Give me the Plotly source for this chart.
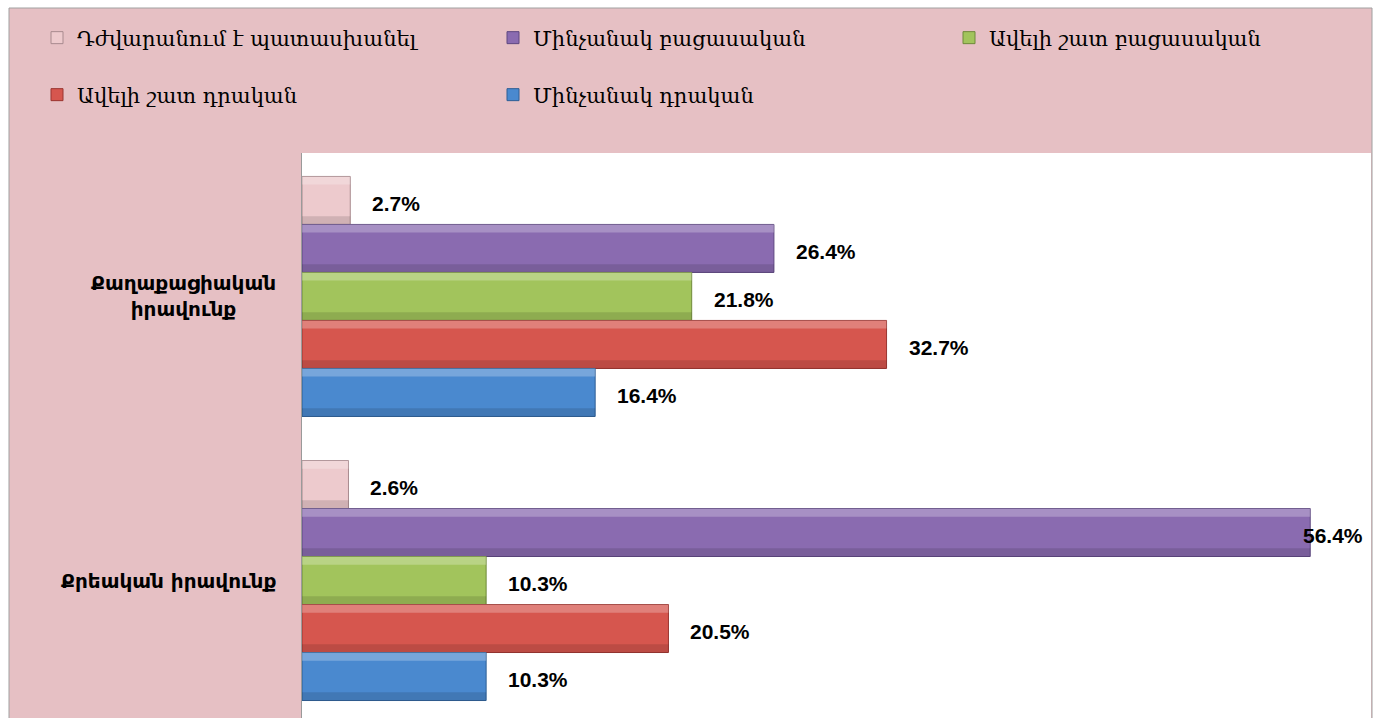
import plotly.graph_objects as go

# Categories (top to bottom) and series values, in %
categories = ["Քաղաքացիական<br>իրավունք", "Քրեական իրավունք"]
series_names = [
    "Դժվարանում է պատասխանել",
    "Մինչանակ բացասական",
    "Ավելի շատ բացասական",
    "Ավելի շատ դրական",
    "Մինչանակ դրական",
]
hard_to_answer = [2.7, 2.6]
rather_negative = [26.4, 56.4]
mostly_negative = [21.8, 10.3]
mostly_positive = [32.7, 20.5]
rather_positive = [16.4, 10.3]

series_values = [hard_to_answer, rather_negative, mostly_negative,
                 mostly_positive, rather_positive]
colors = ["#EDCACD", "#8A6BB0", "#A2C45C", "#D6564E", "#4A89CF"]
edges = ["#A88A8E", "#5E4880", "#6F8A3A", "#9A3530", "#2F5F95"]
# legend row / column for each series
legend_ids = ["legend", "legend", "legend3", "legend2", "legend2"]

W, H = 1381, 718
X_MAX = 59.8
BARGAP = 0.155
n = len(series_names)
bar_w = (1 - BARGAP) / n
bevel = 0.17 * bar_w
cat_pos = list(range(len(categories)))

fig = go.Figure()
for i, (name, vals) in enumerate(zip(series_names, series_values)):
    start = (i - n / 2) * bar_w
    fig.add_trace(go.Bar(
        y=cat_pos, x=vals, name=name, orientation="h",
        offset=start, width=bar_w,
        marker=dict(color=colors[i], line=dict(color=edges[i], width=1)),
        legend=legend_ids[i], hoverinfo="skip",
    ))
    # light upper bevel
    fig.add_trace(go.Bar(
        y=cat_pos, x=vals, orientation="h", offset=start,
        width=bevel, marker=dict(color="rgba(255,255,255,0.25)",
                                 line=dict(width=0)),
        showlegend=False, hoverinfo="skip",
    ))
    # dark lower bevel
    fig.add_trace(go.Bar(
        y=cat_pos, x=vals, orientation="h",
        offset=start + bar_w - bevel, width=bevel,
        marker=dict(color="rgba(0,0,0,0.12)", line=dict(width=0)),
        showlegend=False, hoverinfo="skip",
    ))

value_font = dict(family="Liberation Sans", size=21, color="black", weight="bold")
annotations = []
# value labels at the end of each bar
for i, vals in enumerate(series_values):
    for j, v in enumerate(vals):
        yc = j + (i - (n - 1) / 2) * bar_w
        if v > X_MAX - 6:
            annotations.append(dict(x=X_MAX, y=yc, xref="x", yref="y",
                                    text=f"{v}%", showarrow=False,
                                    xanchor="right", xshift=-6, yshift=-3,
                                    font=value_font))
        else:
            annotations.append(dict(x=v, y=yc, xref="x", yref="y",
                                    text=f"{v}%", showarrow=False,
                                    xanchor="left", xshift=20, yshift=-3,
                                    font=value_font))
# category labels
for j, c in enumerate(categories):
    annotations.append(dict(x=0, y=j, xref="paper", yref="y", text=c,
                            showarrow=False, xanchor="right", align="center",
                            xshift=-24,
                            font=dict(family="DejaVu Sans", size=20,
                                      color="black", weight="bold")))

L, R, T = 302, 10, 153
pw = W - L - R
ph = H - T
def px_to_paper_x(px):
    return (px - L) / pw
def px_to_paper_y(py):
    return (H - py) / ph

shapes = [
    # chart area background with its frame
    dict(type="rect", xref="paper", yref="paper", layer="below",
         x0=px_to_paper_x(9), x1=px_to_paper_x(1372),
         y0=px_to_paper_y(722), y1=px_to_paper_y(8),
         fillcolor="#E6C0C4", line=dict(color="#A0A0A0", width=1)),
    # white plot area
    dict(type="rect", xref="paper", yref="paper", layer="below",
         x0=0, x1=px_to_paper_x(1371), y0=-0.02, y1=1,
         fillcolor="white", line=dict(width=0)),
]

legend_font = dict(family="DejaVu Serif", size=21, color="black")
def legend_box(x_px, y_px):
    return dict(orientation="h", xref="container", yref="container",
                x=x_px / W, y=1 - y_px / H, yanchor="middle", xanchor="left",
                entrywidth=411, entrywidthmode="pixels",
                bgcolor="rgba(0,0,0,0)", font=legend_font, traceorder="normal",
                itemclick=False, itemdoubleclick=False)

fig.update_layout(
    width=W, height=H,
    margin=dict(l=L, r=R, t=T, b=0, pad=0),
    paper_bgcolor="white", plot_bgcolor="rgba(0,0,0,0)",
    barmode="overlay",
    xaxis=dict(range=[0, X_MAX], showgrid=False, zeroline=False,
               showticklabels=False, showline=False, fixedrange=True),
    yaxis=dict(range=[1.484, -0.505], showgrid=False, zeroline=False,
               showticklabels=False, showline=True, linecolor="#9A9A9A",
               linewidth=1, ticks=""),
    legend=legend_box(37, 38),
    legend2=legend_box(37, 95),
    legend3=legend_box(949, 38),
    annotations=annotations,
    shapes=shapes,
)

fig.write_html("out.html")
